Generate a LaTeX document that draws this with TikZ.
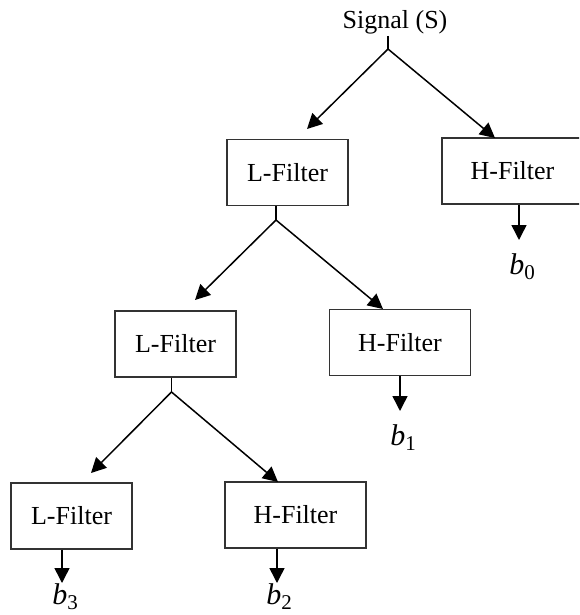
\documentclass[tikz,border=0pt]{standalone}
\usepackage{fontspec}
\setmainfont{Liberation Serif}
\usetikzlibrary{arrows.meta}
\newcommand{\bsub}[1]{{\itshape b}\raisebox{-5pt}{\fontsize{21}{21}\selectfont #1}}
\begin{document}
\begin{tikzpicture}[x=1pt,y=-1pt,
  box/.style={draw=black!80,line width=1.4pt,minimum height=66pt,inner sep=0pt,font=\fontsize{26}{30}\selectfont},
  lbox/.style={box,minimum width=121pt},
  hbox/.style={box,minimum width=141pt},
  conn/.style={line width=1.5pt,-{Triangle[length=15pt,width=15pt]}},
  tick/.style={line width=1.5pt},
  lab/.style={font=\fontsize{26}{30}\selectfont,inner sep=0pt},
  blab/.style={font=\fontsize{30}{32}\selectfont,inner sep=0pt}]
\useasboundingbox (0,0) rectangle (579,615);
\clip (0,0) rectangle (579,615);
% texts and boxes
\node[lab] (s) at (395,22) {Signal (S)};
\node[lbox] (l1) at (287.5,172.5) {L-Filter};
\node[hbox] (h1) at (512.5,171) {H-Filter};
\node[lbox] (l2) at (175.5,344) {L-Filter};
\node[hbox] (h2) at (400,342.5) {H-Filter};
\node[lbox] (l3) at (71.5,516) {L-Filter};
\node[hbox] (h3) at (295.5,515) {H-Filter};
\node[blab] (b0) at (522,267) {\bsub{0}};
\node[blab] (b1) at (403,438) {\bsub{1}};
\node[blab] (b2) at (279,597) {\bsub{2}};
\node[blab] (b3) at (65,597) {\bsub{3}};
% split points and tips
\coordinate (t0) at (388,36);
\coordinate (sp0) at (388,49);
\coordinate (sp1) at (276,220);
\coordinate (sp2) at (171.5,392);
\coordinate (tl1) at (307,129);
\coordinate (th1) at (495,138);
\coordinate (tl2) at (195,300);
\coordinate (th2) at (383,309);
\coordinate (tl3) at (91,473);
\coordinate (th3) at (278,482);
\coordinate (tb0) at (519,240);
\coordinate (tb1) at (400,411);
\coordinate (tb2) at (277,583);
\coordinate (tb3) at (62,583);
% connectors
\draw[tick] (t0) -- (sp0);
\draw[conn] (sp0) -- (tl1);
\draw[conn] (sp0) -- (th1);
\draw[tick] (l1.south -| sp1) -- (sp1);
\draw[conn] (sp1) -- (tl2);
\draw[conn] (sp1) -- (th2);
\draw[tick] (l2.south -| sp2) -- (sp2);
\draw[conn] (sp2) -- (tl3);
\draw[conn] (sp2) -- (th3);
\draw[conn] (h1.south -| tb0) -- (tb0);
\draw[conn] (h2.south -| tb1) -- (tb1);
\draw[conn] (h3.south -| tb2) -- (tb2);
\draw[conn] (l3.south -| tb3) -- (tb3);
\end{tikzpicture}
\end{document}
